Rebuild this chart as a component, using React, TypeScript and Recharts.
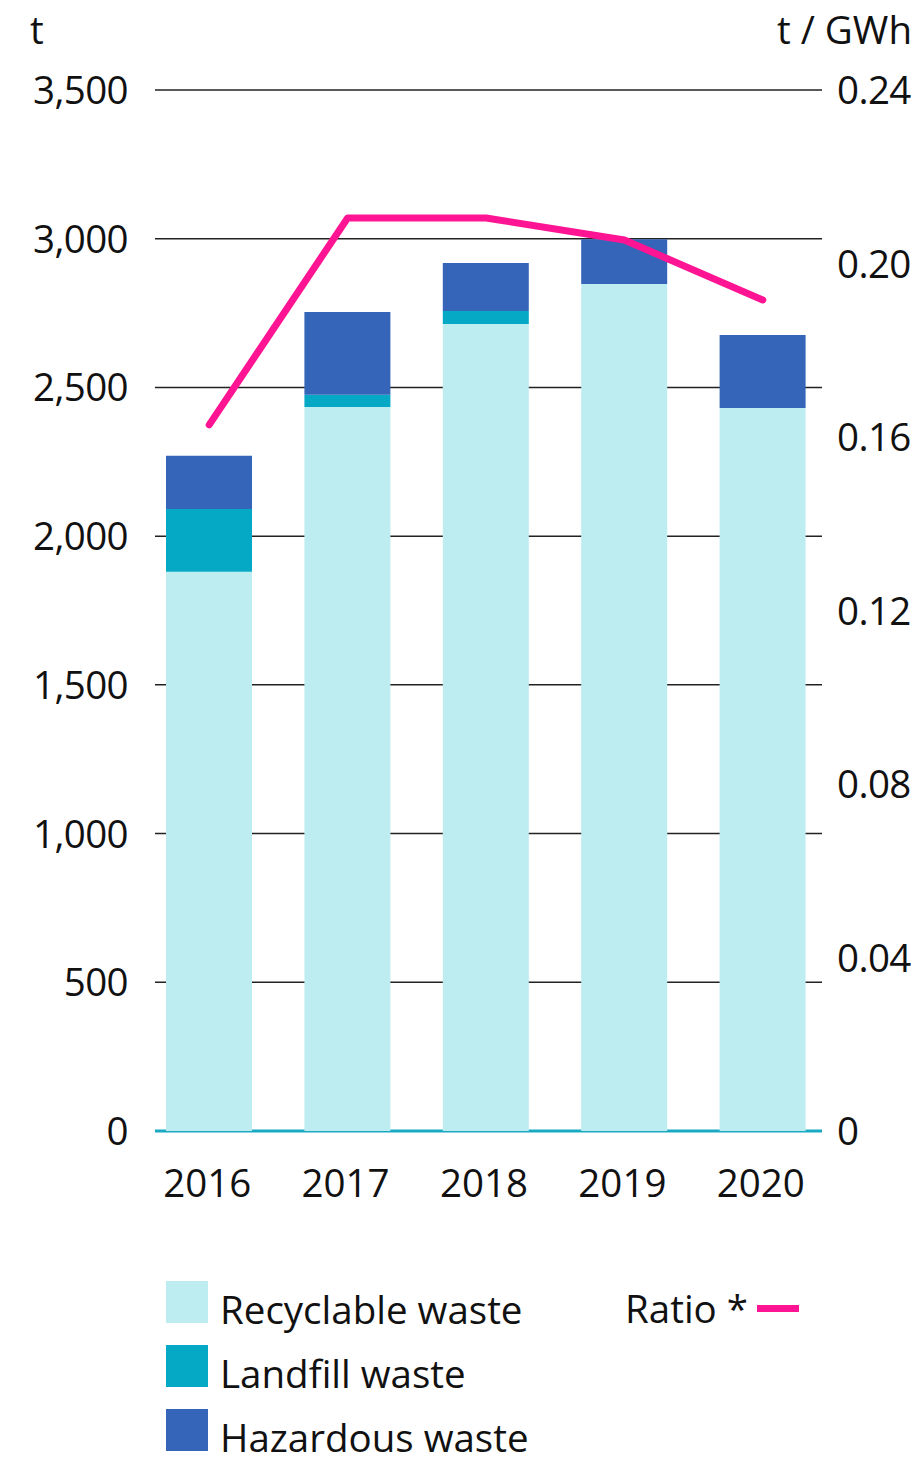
import { ComposedChart, Bar, Line, XAxis, YAxis, CartesianGrid } from 'recharts';

const years = ['2016', '2017', '2018', '2019', '2020'];
const recyclable = [1880, 2434, 2713, 2848, 2431];
const landfill = [211, 41, 44, 0, 0];
const hazardous = [179, 279, 161, 150, 245];
const ratio = [0.1628, 0.2105, 0.2105, 0.2054, 0.1916];

const leftTicks = [0, 500, 1000, 1500, 2000, 2500, 3000, 3500];
const rightTicks = [0, 0.04, 0.08, 0.12, 0.16, 0.2, 0.24];

const FONT = '"Open Sans", Lato, sans-serif';
const INK = '#111';
const FS = 38.5;

const data = years.map((year, i) => ({
  year,
  recyclable: recyclable[i],
  landfill: landfill[i],
  hazardous: hazardous[i],
  ratio: ratio[i],
}));

const fmtLeft = (v: number) => v.toLocaleString('en-US');
const fmtRight = (v: number) => (v === 0 ? '0' : v.toFixed(2));

const LeftTick = ({ y, payload }: any) => (
  <text x={128} y={y} dy={14} textAnchor="end" fontSize={FS} fill={INK} fontFamily={FONT} letterSpacing={-0.6}>
    {fmtLeft(payload.value)}
  </text>
);

const RightTick = ({ y, payload }: any) => (
  <text x={837} y={y} dy={14} textAnchor="start" fontSize={FS} fill={INK} fontFamily={FONT} letterSpacing={-0.6}>
    {fmtRight(payload.value)}
  </text>
);

const YearTick = ({ x, payload }: any) => (
  <text x={x - 2} y={1197} textAnchor="middle" fontSize={FS} fill={INK} fontFamily={FONT}>
    {payload.value}
  </text>
);

// horizontal grid, shortened a bit at both ends; the zero line is the teal baseline
const gridLine = (p: any) => {
  const base = Math.abs(p.y1 - 1131) < 2;
  return (
    <line
      key={p.key}
      x1={p.x1 + 15}
      x2={p.x2 - 10}
      y1={p.y1}
      y2={p.y2}
      stroke={base ? '#1aa9c2' : '#222'}
      strokeWidth={base ? 3 : 1.5}
    />
  );
};

const legendItems = [
  { label: 'Recyclable waste', color: '#bdedf0' },
  { label: 'Landfill waste', color: '#05a9c6' },
  { label: 'Hazardous waste', color: '#3565b8' },
];

export default function App() {
  return (
    <div
      style={{
        position: 'absolute',
        left: 0,
        top: 0,
        width: 917,
        height: 1461,
        background: '#fff',
        fontFamily: FONT,
        color: INK,
      }}
    >
      <ComposedChart
        width={917}
        height={1461}
        data={data}
        margin={{ top: 90, right: 0, bottom: 270, left: 0 }}
      >
        <CartesianGrid yAxisId="left" vertical={false} horizontal={gridLine} />
        <XAxis dataKey="year" axisLine={false} tickLine={false} height={60} tick={<YearTick />} />
        <YAxis
          yAxisId="left"
          width={140}
          domain={[0, 3500]}
          ticks={leftTicks}
          axisLine={false}
          tickLine={false}
          tick={<LeftTick />}
        />
        <YAxis
          yAxisId="right"
          orientation="right"
          width={85}
          domain={[0, 0.24]}
          ticks={rightTicks}
          axisLine={false}
          tickLine={false}
          tick={<RightTick />}
        />
        <Bar yAxisId="left" dataKey="recyclable" stackId="w" fill="#bdedf0" barSize={86} isAnimationActive={false} />
        <Bar yAxisId="left" dataKey="landfill" stackId="w" fill="#05a9c6" barSize={86} isAnimationActive={false} />
        <Bar yAxisId="left" dataKey="hazardous" stackId="w" fill="#3565b8" barSize={86} isAnimationActive={false} />
        <Line
          yAxisId="right"
          dataKey="ratio"
          type="linear"
          stroke="#ff1493"
          strokeWidth={7}
          strokeLinecap="round"
          strokeLinejoin="round"
          dot={false}
          activeDot={false}
          isAnimationActive={false}
        />
      </ComposedChart>

      <div style={{ position: 'absolute', left: 30, top: 4, fontSize: FS, lineHeight: '50px' }}>t</div>
      <div style={{ position: 'absolute', right: 5, top: 4, fontSize: FS, lineHeight: '50px' }}>t / GWh</div>

      {legendItems.map((item, i) => (
        <div
          key={item.label}
          style={{
            position: 'absolute',
            left: 166,
            top: 1281 + i * 64,
            height: 42,
            display: 'flex',
            alignItems: 'center',
            fontSize: FS,
          }}
        >
          <span style={{ width: 42, height: 42, background: item.color, display: 'inline-block', flexShrink: 0 }} />
          <span style={{ marginLeft: 12, marginTop: 13 }}>{item.label}</span>
        </div>
      ))}
      <div
        style={{
          position: 'absolute',
          left: 625,
          top: 1281,
          height: 42,
          display: 'flex',
          alignItems: 'center',
          fontSize: FS,
        }}
      >
        <span style={{ marginTop: 11 }}>Ratio *</span>
        <span style={{ width: 42, height: 7, background: '#ff1493', display: 'inline-block', marginLeft: 9, marginTop: 12 }} />
      </div>
    </div>
  );
}
